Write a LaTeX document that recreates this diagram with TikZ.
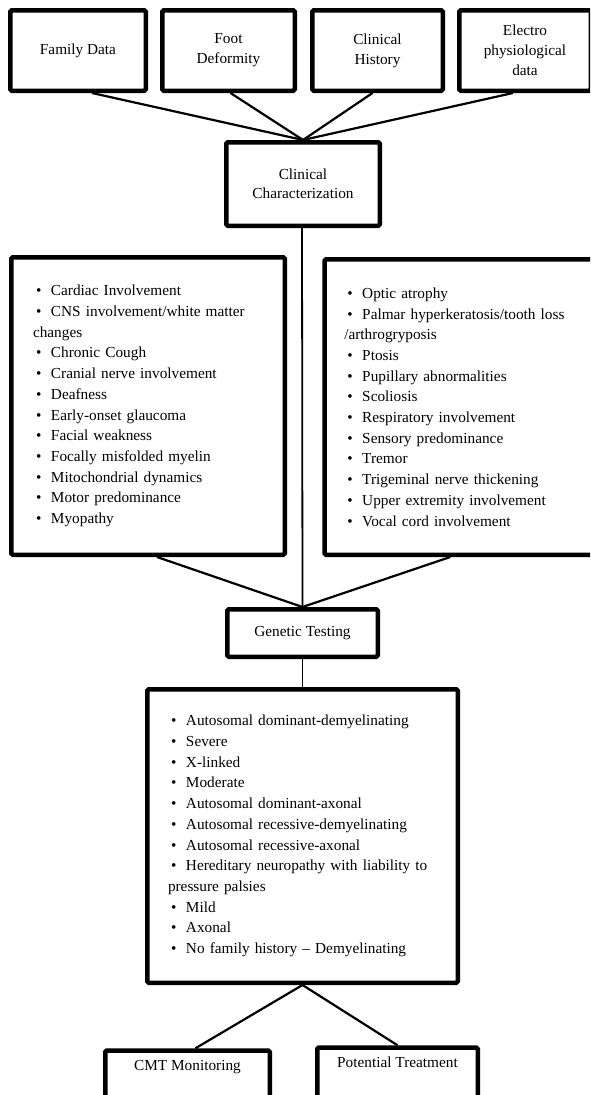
\documentclass[tikz,border=0pt]{standalone}
\usepackage{fontspec}
\setmainfont{Liberation Serif}
\usepackage{tikz}
\usetikzlibrary{positioning}
\tikzset{
  boxnode/.style = {draw=black, line width=4.5pt, rounded corners=1.5pt,
    inner sep=0pt, align=center, font=\fontsize{15.3}{20}\selectfont},
  box_t/.style = {boxnode, minimum height=80.5pt},% top row
  box_m/.style = {boxnode, minimum width=150.5pt},% middle step
  box_l/.style = {boxnode, align=left,
    font=\fontsize{15.3}{20.7}\selectfont},% bullet list
  box_b/.style = {boxnode, anchor=north, text height=20pt,
    text depth=50pt},% bottom row, cut by the page
  link/.style = {line width=2.2pt},
  link_v/.style = {line width=1.8pt}% straight down
}
\newcommand{\itm}{\hspace*{3pt}\makebox[15pt][l]{\textbullet}}

\begin{document}
\begin{tikzpicture}[x=1pt,y=-1pt]
\useasboundingbox (0,0) rectangle (590,1095);
\clip (0,0) rectangle (590,1095);

% top row
\node [box_t, minimum width=135.5pt] (fam) at (78,50.5) {Family Data};
\node [box_t, minimum width=132.5pt] (foot) at (228.5,50.5) {Foot\\Deformity};
\node [box_t, minimum width=130.5pt] (hist) at (377.5,50.5) {Clinical\\History};
\node [box_t, minimum width=131.5pt] (elec) at (525,50.5)
  {Electro\\physiological\\data};

\node [box_m, minimum width=153.5pt, minimum height=83.5pt,
  font=\fontsize{15.3}{19}\selectfont] (cc) at (303,184)
  {Clinical\\Characterization};

% symptom lists
\node [box_l, text width=230pt, inner xsep=21.75pt, minimum height=297.5pt]
  (lbox) at (148,406) {%
  \itm Cardiac Involvement\\
  \itm CNS involvement/white matter\\
  changes\\
  \itm Chronic Cough\\
  \itm Cranial nerve involvement\\
  \itm Deafness\\
  \itm Early-onset glaucoma\\
  \itm Facial weakness\\
  \itm Focally misfolded myelin\\
  \itm Mitochondrial dynamics\\
  \itm Motor predominance\\
  \itm Myopathy};
\node [box_l, anchor=west, text width=260pt, inner xsep=19.75pt,
  minimum height=295.5pt] (rbox) at (322.25,407) {%
  \itm Optic atrophy\\
  \itm Palmar hyperkeratosis/tooth loss\\
  /arthrogryposis\\
  \itm Ptosis\\
  \itm Pupillary abnormalities\\
  \itm Scoliosis\\
  \itm Respiratory involvement\\
  \itm Sensory predominance\\
  \itm Tremor\\
  \itm Trigeminal nerve thickening\\
  \itm Upper extremity involvement\\
  \itm Vocal cord involvement};

\node [box_m, minimum height=47.5pt] (gen) at (302.5,633) {Genetic Testing};

\node [box_l, text width=269pt, inner xsep=20.75pt, minimum height=293.5pt]
  (big) at (302.5,836) {%
  \itm Autosomal dominant-demyelinating\\
  \itm Severe\\
  \itm X-linked\\
  \itm Moderate\\
  \itm Autosomal dominant-axonal\\
  \itm Autosomal recessive-demyelinating\\
  \itm Autosomal recessive-axonal\\
  \itm Hereditary neuropathy with liability to\\
  pressure palsies\\
  \itm Mild\\
  \itm Axonal\\
  \itm No family history -- Demyelinating};

% bottom row
\node [box_b, minimum width=164.5pt] (cmt) at (187.5,1048.25) {CMT Monitoring};
\node [box_b, minimum width=160.5pt] (pt) at (397.5,1045.25) {Potential Treatment};

% links
\draw [link] ([xshift=14pt]fam.south) -- (cc.north);
\draw [link] ([xshift=2pt]foot.south) -- (cc.north);
\draw [link] ([xshift=-5pt]hist.south) -- (cc.north);
\draw [link] ([xshift=-12pt]elec.south) -- (cc.north);
\draw [link_v] ([xshift=-1pt]cc.south) -- (gen.north);
\draw [link] ([xshift=9pt]lbox.south) -- (gen.north);
\draw [link] ([xshift=128pt]rbox.south west) -- (gen.north);
\draw [link_v] (gen.south) -- (big.north);
\draw [link] (big.south) -- ([xshift=8pt]cmt.north);
\draw [link] (big.south) -- (pt.north);
\end{tikzpicture}
\end{document}
